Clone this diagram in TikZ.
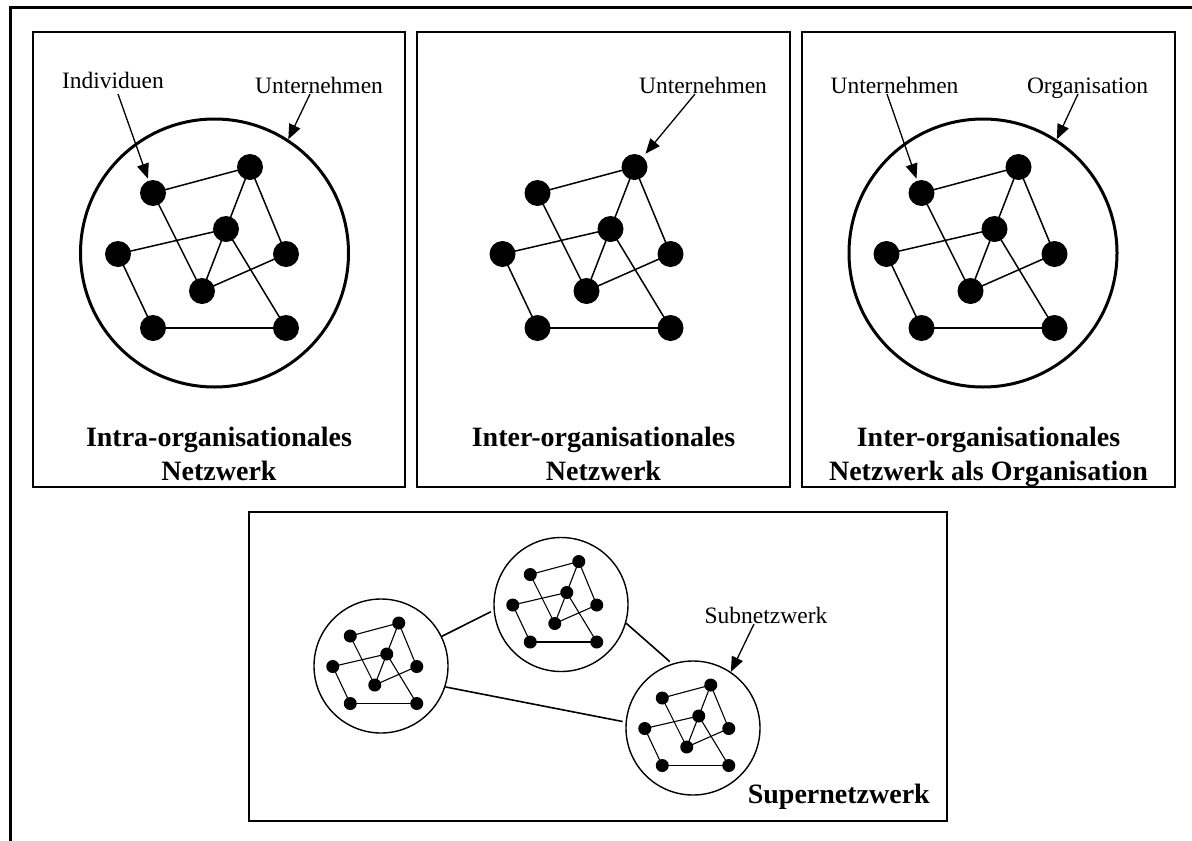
\documentclass[tikz,border=0pt]{standalone}
\usepackage{fontspec}
\setmainfont{Liberation Serif}
\usetikzlibrary{arrows.meta,calc}

\tikzset{
  bigdot/.style={circle,fill=black,inner sep=0pt,minimum size=26pt},
  tinydot/.style={circle,fill=black,inner sep=0pt,minimum size=13pt},
  bignetline/.style={line width=1.5pt},
  tinynetline/.style={line width=1.1pt},
  panel/.style={draw,line width=1.8pt},
  bigring/.style={circle,draw,line width=3pt,inner sep=0pt,minimum size=268pt},
  smallring/.style={circle,draw,line width=1.4pt,inner sep=0pt,minimum size=134pt},
  lbl/.style={font=\fontsize{23.5}{28}\selectfont,inner sep=0pt,anchor=base},
  ttl/.style={font=\fontsize{28}{34}\selectfont\bfseries,inner sep=0pt,anchor=base},
  pointer/.style={line width=1.3pt,-{Triangle[length=15pt,width=12pt]}},
  link/.style={line width=1.6pt,shorten >=3pt},
}

% eight members and their ties, placed around (#2,#3) at scale #4
\newcommand{\drawnet}[6]{%
  \foreach \n/\dx/\dy in {A/-61.5/-60, B/35.5/-86, C/11.5/-24, D/-96.5/1,
                          E/71.5/1, F/-12.5/38, G/-61.5/75, H/71.5/75}
    \node[#5] (#1\n) at ({#2+#4*\dx},{#3+#4*\dy}) {};
  \foreach \a/\b in {A/B, A/F, B/C, C/F, B/E, D/C, D/G, G/H, E/F, C/H}
    \draw[#6] (#1\a.center) -- (#1\b.center);
}

\begin{document}
\begin{tikzpicture}[x=1pt,y=-1pt]
  \useasboundingbox (0,0) rectangle (1192,841);
  \clip (0,0) rectangle (1192,841);
  \fill[white] (0,0) rectangle (1192,841);

  % page frame
  \draw[line width=3pt] (1200,7) -- (10,7) -- (10,850);

  % three upper panels and the lower panel
  \draw[panel] (33,32) rectangle (405,487);
  \draw[panel] (417,32) rectangle (790,487);
  \draw[panel] (802,32) rectangle (1175,487);
  \draw[panel] (249,512) rectangle (947,821);

  % ---- panel 1: intra-organisational network
  \node[bigring] (k1) at (214.5,253) {};
  \drawnet{p1}{214.5}{253}{1}{bigdot}{bignetline}
  \node[lbl] (l1a) at (113,88) {Individuen};
  \node[lbl] (l1b) at (319,93) {Unternehmen};
  \coordinate (s1a) at (118,94);
  \coordinate (s1b) at (310,94);
  \draw[pointer,shorten >=2pt] (s1a) -- (p1A);
  \draw[pointer] (s1b) -- (k1.57.5);
  \node[ttl] (t1a) at (219,446) {Intra-organisationales};
  \node[ttl] (t1b) at (219,480) {Netzwerk};

  % ---- panel 2: inter-organisational network
  \drawnet{p2}{599}{253}{1}{bigdot}{bignetline}
  \node[lbl] (l2a) at (703,93) {Unternehmen};
  \coordinate (s2a) at (695,94);
  \draw[pointer,shorten >=4pt] (s2a) -- (p2B);
  \node[ttl] (t2a) at (603.5,446) {Inter-organisationales};
  \node[ttl] (t2b) at (603.5,480) {Netzwerk};

  % ---- panel 3: inter-organisational network as organisation
  \node[bigring] (k3) at (983,253) {};
  \drawnet{p3}{983}{253}{1}{bigdot}{bignetline}
  \node[lbl] (l3a) at (894.5,93) {Unternehmen};
  \node[lbl] (l3b) at (1087.5,93) {Organisation};
  \coordinate (s3a) at (887,94);
  \coordinate (s3b) at (1078,94);
  \draw[pointer,shorten >=2pt] (s3a) -- (p3A);
  \draw[pointer] (s3b) -- (k3.57.5);
  \node[ttl] (t3a) at (988.5,446) {Inter-organisationales};
  \node[ttl] (t3b) at (988.5,480) {Netzwerk als Organisation};

  % ---- lower panel: super network of three sub networks
  \node[smallring] (c1) at (381,666) {};
  \node[smallring] (c2) at (561,604.5) {};
  \node[smallring] (c3) at (693,728) {};
  \drawnet{q1}{381}{666}{0.5}{tinydot}{tinynetline}
  \drawnet{q2}{561}{604.5}{0.5}{tinydot}{tinynetline}
  \drawnet{q3}{693}{728}{0.5}{tinydot}{tinynetline}
  \draw[link] (c1.26) -- (c2.185);
  \draw[link] (c2.-16) -- (c3.108);
  \draw[link] (c1.-18) -- (c3.175);
  \node[lbl] (l4a) at (766,623) {Subnetzwerk};
  \coordinate (s4a) at (754,624);
  \draw[pointer] (s4a) -- (c3.56);
  \node[ttl,anchor=base east] (t4a) at (930,803) {Supernetzwerk};
\end{tikzpicture}
\end{document}
